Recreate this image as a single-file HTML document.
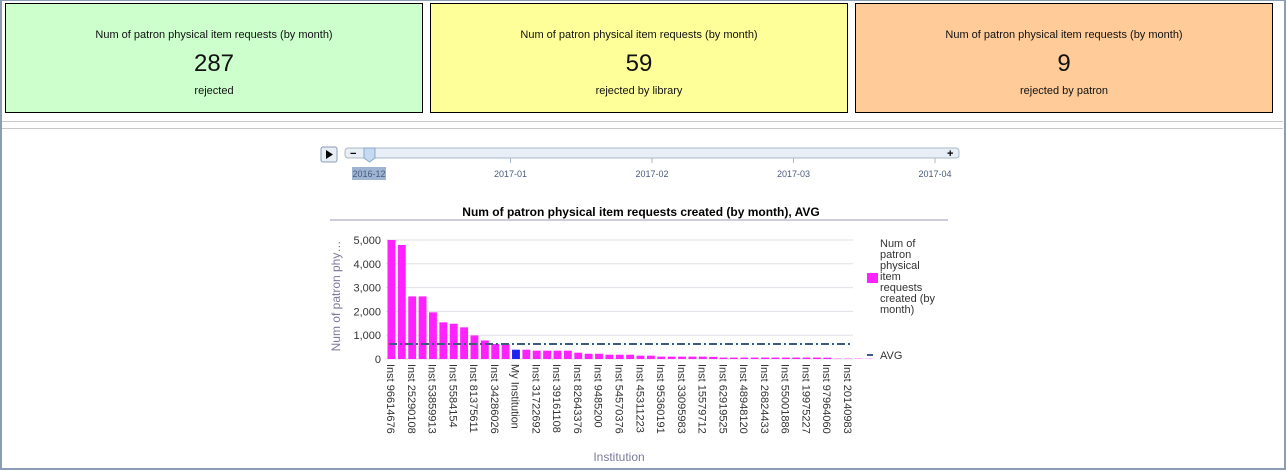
<!DOCTYPE html>
<html><head><meta charset="utf-8"><style>
body{margin:0;width:1286px;height:471px;overflow:hidden;background:#fff;font-family:"Liberation Sans",sans-serif;position:relative}
.frame{position:absolute;left:0;top:0;width:1282px;height:467px;border:2px solid #8a9db5;border-top-width:1px}
.card{position:absolute;top:3px;width:416px;height:108px;border:1px solid #000;text-align:center;color:#111}
.card .t{position:absolute;top:25px;width:100%;font-size:11px}
.card .v{position:absolute;top:46px;width:100%;font-size:24px}
.card .s{position:absolute;top:81px;width:100%;font-size:11px}
.hl{position:absolute;left:2px;width:1281px;height:1px;background:#c8c8c8}
</style></head><body>
<div class="frame"></div>
<div class="card" style="left:5px;background:#ccffcc"><div class="t">Num of patron physical item requests (by month)</div><div class="v">287</div><div class="s">rejected</div></div>
<div class="card" style="left:430px;background:#ffff99"><div class="t">Num of patron physical item requests (by month)</div><div class="v">59</div><div class="s">rejected by library</div></div>
<div class="card" style="left:855px;background:#ffcc99"><div class="t">Num of patron physical item requests (by month)</div><div class="v">9</div><div class="s">rejected by patron</div></div>
<div class="hl" style="top:121px"></div><div class="hl" style="top:128px"></div>
<svg id="ch" width="1286" height="471" style="position:absolute;left:0;top:0" font-family="Liberation Sans, sans-serif"></svg>
<script>
const categories=["Inst 96614676","","Inst 25290108","","Inst 53859913","","Inst 5584154","","Inst 81375611","","Inst 34286026","","My Institution","","Inst 31722692","","Inst 39161108","","Inst 82643376","","Inst 9485200","","Inst 54570376","","Inst 45311223","","Inst 95360191","","Inst 33095983","","Inst 15579712","","Inst 62919525","","Inst 48948120","","Inst 26824433","","Inst 55001886","","Inst 19975227","","Inst 97964060","","Inst 20140983"];
const values=[5000,4790,2630,2630,1960,1540,1480,1330,990,780,630,630,390,390,350,350,350,350,265,220,220,180,180,180,140,140,100,100,100,100,100,90,60,60,60,60,60,60,60,60,60,60,55,15,15,15,10];
const avgValue=[630];
const yTicks=[0,1000,2000,3000,4000,5000];
const timeTicks=["2016-12","2017-01","2017-02","2017-03","2017-04"];
const NS="http://www.w3.org/2000/svg";
const svg=document.getElementById('ch');
function el(t,a,txt){const e=document.createElementNS(NS,t);for(const k in a)e.setAttribute(k,a[k]);if(txt!==undefined)e.textContent=txt;svg.appendChild(e);return e;}
const X0=386,X1=853,Y0=359,Y1=240,YMAX=5000;
const bw=(X1-X0)/categories.length;
const xs=i=>X0+i*bw;
const ys=v=>Y0-(v/YMAX)*(Y0-Y1);
// slider
let e;
e=el('rect',{x:321,y:147,width:16,height:15,rx:2,fill:'#e8eef5',stroke:'#8a9db5'});

el('path',{d:'M326 150 L333 154.5 L326 159 Z',fill:'#000'});
e=el('rect',{x:345,y:148,width:614,height:10,rx:3,fill:'#e8eef5',stroke:'#a9b8c8'});

el('text',{x:350,y:157,'font-size':11,'font-weight':'bold'},'−');
el('text',{x:947,y:157,'font-size':11,'font-weight':'bold'},'+');
e=el('path',{d:'M364 148 H375 V158 L369.5 162 L364 158 Z',fill:'#c5d9ef',stroke:'#8aaacc'});

timeTicks.forEach((t,i)=>{const x=369+i*141.5;
 if(i>0)el('line',{x1:x,y1:158,x2:x,y2:163,stroke:'#a9b8c8'});
 if(i==0)el('rect',{x:x-17,y:167,width:34,height:13,fill:'#9db4d3'});
 const tt=el('text',{x:x,y:177,'font-size':9,'text-anchor':'middle',fill:'#4a5a7a'},t);
 });
// title
e=el('text',{x:641,y:216,'font-size':12,'font-weight':'bold','text-anchor':'middle',fill:'#000'},'Num of patron physical item requests created (by month), AVG');

el('line',{x1:330,y1:220,x2:948,y2:220,stroke:'#ccccdd','stroke-width':2});
// grid + y ticks
yTicks.forEach(v=>{const y=ys(v);
 el('line',{x1:X0,y1:y,x2:X1,y2:y,stroke:'#e0e0e8'});
 const t=el('text',{x:381,y:y+4,'font-size':11,'text-anchor':'end',fill:'#333'},v.toLocaleString('en-US'));
 });
e=el('text',{x:0,y:0,'font-size':12,fill:'#7a7a9a',transform:'translate(340,296) rotate(-90)','text-anchor':'middle'},'Num of patron phy…');

// bars
values.forEach((v,i)=>{const x=xs(i)+1.5,w=bw-2.5,y=ys(v);
 const r=el('rect',{x:x,y:y,width:w,height:Y0-y,fill:categories[i]=='My Institution'?'#2222ee':'#ff22ff'});
 
 if(categories[i]){const t=el('text',{x:0,y:0,'font-size':11,fill:'#333',transform:`translate(${xs(i)+bw/2-4},364) rotate(90)`},categories[i]);
 }});
// avg line
e=el('line',{x1:X0+3,y1:ys(avgValue[0]),x2:X1-3,y2:ys(avgValue[0]),stroke:'#3d5a80','stroke-width':2,'stroke-dasharray':'8 3 2 3'});

e=el('text',{x:619,y:461,'font-size':12,'text-anchor':'middle',fill:'#7a7a9a'},'Institution');

// legend
e=el('rect',{x:867,y:273,width:11,height:10,fill:'#ff22ff'});

["Num of","patron","physical","item","requests","created (by","month)"].forEach((l,i)=>el('text',{x:880,y:247+i*11,'font-size':11,fill:'#333'},l));
e=el('rect',{x:867,y:354,width:6,height:2,fill:'#3d5a80'});

el('text',{x:880,y:359,'font-size':11,fill:'#333'},'AVG');
</script>
</body></html>
